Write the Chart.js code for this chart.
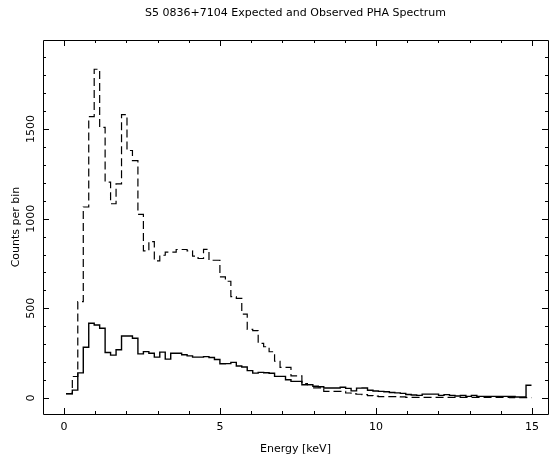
<!DOCTYPE html>
<html>
<head>
<meta charset="utf-8">
<script src="https://cdn.jsdelivr.net/npm/chart.js@4"></script>
<style>
  html, body { margin: 0; padding: 0; background: #fff; }
  canvas { display: block; }
</style>
</head>
<body>
<canvas id="pha" width="558" height="466"></canvas>
<script>
// bin edges in keV (Chandra-style grouping, ~0.175 keV per bin)
const binEdges = [0.064, 0.267, 0.442, 0.618, 0.793, 0.968, 1.143, 1.318, 1.493, 1.669,
  1.844, 2.019, 2.194, 2.369, 2.545, 2.720, 2.895, 3.070, 3.245, 3.421,
  3.596, 3.771, 3.946, 4.121, 4.297, 4.472, 4.647, 4.822, 4.997, 5.173,
  5.348, 5.523, 5.698, 5.873, 6.049, 6.224, 6.399, 6.574, 6.749, 6.925,
  7.100, 7.275, 7.450, 7.625, 7.801, 7.976, 8.151, 8.326, 8.501, 8.677,
  8.852, 9.027, 9.202, 9.377, 9.553, 9.728, 9.903, 10.078, 10.253, 10.429,
  10.604, 10.779, 10.954, 11.129, 11.305, 11.480, 11.655, 11.830, 12.005, 12.181,
  12.356, 12.531, 12.706, 12.881, 13.057, 13.232, 13.407, 13.582, 13.757, 13.933,
  14.108, 14.283, 14.458, 14.633, 14.809, 14.984];

// expected counts (dashed)
const expected = [24, 120, 537, 1065, 1569, 1833, 1509, 1204, 1083, 1194,
  1580, 1380, 1324, 1024, 820, 872, 765, 796, 813, 813,
  828, 828, 820, 791, 778, 829, 768, 768, 675, 651,
  565, 556, 468, 383, 376, 305, 286, 258, 205, 171,
  171, 124, 124, 80, 74, 57, 57, 37, 37, 37,
  37, 28, 23, 21, 19, 13, 11, 8, 8, 8,
  8, 6, 4, 4, 4, 4, 4, 4, 4, 4,
  4, 4, 4, 4, 4, 4, 4, 4, 4, 4,
  4, 2, 2, 2, 2];

// observed counts (solid)
const observed = [24, 44, 140, 283, 417, 407, 389, 254, 239, 269,
  346, 346, 333, 246, 259, 250, 228, 256, 217, 250,
  250, 241, 235, 228, 228, 231, 226, 215, 191, 192,
  199, 179, 173, 153, 139, 143, 141, 138, 121, 121,
  102, 93, 93, 74, 75, 66, 63, 56, 56, 56,
  60, 54, 40, 55, 56, 43, 39, 37, 35, 31,
  29, 26, 20, 17, 15, 22, 22, 22, 15, 19,
  15, 11, 15, 9, 15, 9, 9, 9, 9, 9,
  9, 9, 6, 6, 71];

const xTicks = [0, 5, 10, 15];
const yTicks = [0, 500, 1000, 1500];

function steps(vals) {
  const pts = vals.map((v, i) => ({ x: binEdges[i], y: v }));
  pts.push({ x: binEdges[vals.length], y: vals[vals.length - 1] });
  return pts;
}

const FONT = '11px "DejaVu Sans"';

// PGPLOT-like box: frame, inward ticks on all four sides, labels
const pgBox = {
  id: 'pgBox',
  afterDraw(chart) {
    const { ctx, chartArea: a, scales: { x, y } } = chart;
    ctx.save();
    ctx.strokeStyle = '#000';
    ctx.fillStyle = '#000';
    ctx.lineWidth = 1;
    ctx.beginPath();
    ctx.rect(Math.round(a.left) + 0.5, Math.round(a.top) + 0.5,
      Math.round(a.right - a.left), Math.round(a.bottom - a.top));
    ctx.stroke();

    ctx.beginPath();
    for (let v = 0; v <= 15; v += 1) {
      const px = Math.round(x.getPixelForValue(v)) + 0.5;
      const len = v % 5 === 0 ? 6 : 3;
      ctx.moveTo(px, a.bottom); ctx.lineTo(px, a.bottom - len);
      ctx.moveTo(px, a.top); ctx.lineTo(px, a.top + len);
    }
    for (let v = 0; v <= 1900; v += 100) {
      const py = Math.round(y.getPixelForValue(v)) + 0.5;
      const len = v % 500 === 0 ? 6 : 3;
      ctx.moveTo(a.left, py); ctx.lineTo(a.left + len, py);
      ctx.moveTo(a.right, py); ctx.lineTo(a.right - len, py);
    }
    ctx.stroke();

    ctx.font = FONT;
    ctx.textAlign = 'center';
    ctx.textBaseline = 'middle';
    xTicks.forEach(v => ctx.fillText(String(v), x.getPixelForValue(v), 427));
    yTicks.forEach(v => {
      ctx.save();
      ctx.translate(31, y.getPixelForValue(v));
      ctx.rotate(-Math.PI / 2);
      ctx.fillText(String(v), 0, 0);
      ctx.restore();
    });

    const cx = (a.left + a.right) / 2;
    ctx.fillText('S5 0836+7104 Expected and Observed PHA Spectrum', cx, 13);
    ctx.fillText('Energy [keV]', cx, 449);
    ctx.save();
    ctx.translate(16, (a.top + a.bottom) / 2);
    ctx.rotate(-Math.PI / 2);
    ctx.fillText('Counts per bin', 0, 0);
    ctx.restore();
    ctx.restore();
  }
};

new Chart(document.getElementById('pha'), {
  type: 'line',
  data: {
    datasets: [{
      label: 'Expected',
      data: steps(expected),
      stepped: true,
      borderColor: '#000',
      borderWidth: 1.2,
      borderDash: [8, 4],
      pointRadius: 0,
      fill: false
    }, {
      label: 'Observed',
      data: steps(observed),
      stepped: true,
      borderColor: '#000',
      borderWidth: 1.4,
      pointRadius: 0,
      fill: false
    }]
  },
  options: {
    responsive: false,
    animation: false,
    layout: { padding: { left: 43, right: 10, top: 40, bottom: 52 } },
    plugins: {
      legend: { display: false },
      tooltip: { enabled: false }
    },
    scales: {
      x: { type: 'linear', min: -0.673, max: 15.513, display: false },
      y: { type: 'linear', min: -89, max: 1996, display: false }
    }
  },
  plugins: [pgBox]
});
</script>
</body>
</html>
